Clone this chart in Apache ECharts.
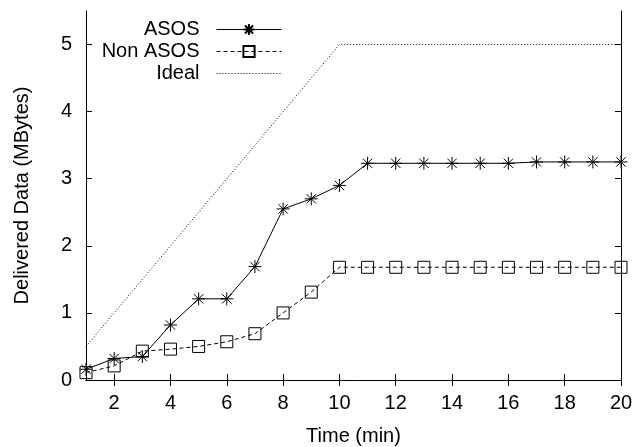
<!DOCTYPE html>
<html>
<head>
<meta charset="utf-8">
<script src="https://cdn.jsdelivr.net/npm/echarts@6/dist/echarts.min.js"></script>
<style>
    html, body { margin: 0; padding: 0; background: #fff; }
    #chart { width: 644px; height: 447px; }
</style>
</head>
<body>
<div id="chart"></div>
<script>
    // 数据
    var times = [1, 2, 3, 4, 5, 6, 7, 8, 9, 10, 11, 12, 13, 14, 15, 16, 17, 18, 19, 20];
    var asos = [0.16, 0.32, 0.35, 0.82, 1.21, 1.21, 1.69, 2.55, 2.70, 2.90, 3.23, 3.23, 3.23, 3.23, 3.23, 3.23, 3.25, 3.25, 3.25, 3.25];
    var nonAsos = [0.11, 0.21, 0.43, 0.46, 0.50, 0.57, 0.69, 1.00, 1.31, 1.68, 1.68, 1.68, 1.68, 1.68, 1.68, 1.68, 1.68, 1.68, 1.68, 1.68];
    var idealTimes = [1, 10, 20];
    var idealValues = [0.5, 5, 5];
    var xTicks = [2, 4, 6, 8, 10, 12, 14, 16, 18, 20];
    var yTicks = [0, 1, 2, 3, 4, 5];

    function pairs(xs, ys) {
        var out = [];
        for (var i = 0; i < xs.length; i++) {
            out.push([xs[i], ys[i]]);
        }
        return out;
    }

    var font = 'Liberation Sans';
    var star = 'path://M0,-1L0,1M-1,0L1,0M-0.72,-0.72L0.72,0.72M-0.72,0.72L0.72,-0.72';

    var myChart = echarts.init(document.getElementById('chart'));
    var option = {
        animation: false,
        textStyle: { fontFamily: font },
        grid: { left: 86, right: 23, top: 11, bottom: 67, outerBoundsMode: 'none' },
        legend: {
            orient: 'vertical',
            right: 357,
            top: 14,
            align: 'right',
            itemWidth: 65,
            itemHeight: 14,
            itemGap: 1,
            selectedMode: false,
            lineStyle: { width: 1 },
            textStyle: { fontSize: 20, color: '#000', fontFamily: font, lineHeight: 21, padding: [0, 12, 0, 0] },
            data: ['ASOS', 'Non ASOS', { name: 'Ideal', itemStyle: { opacity: 0 } }]
        },
        xAxis: [{
            type: 'value',
            min: 1,
            max: 20,
            name: 'Time (min)',
            nameLocation: 'middle',
            nameGap: 46,
            nameTextStyle: { fontSize: 20, color: '#000' },
            splitLine: { show: false },
            axisLine: { lineStyle: { color: '#000', width: 1 } },
            axisTick: { inside: true, length: 6, customValues: xTicks, lineStyle: { color: '#000' } },
            axisLabel: { fontSize: 20, color: '#000', margin: 13, customValues: xTicks }
        }, {
            type: 'value',
            position: 'top',
            min: 1,
            max: 20,
            splitLine: { show: false },
            axisLine: { lineStyle: { color: '#000', width: 1 } },
            axisTick: { inside: true, length: 6, customValues: xTicks, lineStyle: { color: '#000' } },
            axisLabel: { show: false }
        }],
        yAxis: [{
            type: 'value',
            min: 0,
            max: 5.5,
            name: 'Delivered Data (MBytes)',
            nameLocation: 'middle',
            nameGap: 54,
            nameTextStyle: { fontSize: 20, color: '#000' },
            splitLine: { show: false },
            axisLine: { show: true, lineStyle: { color: '#000', width: 1 } },
            axisTick: { show: true, inside: true, length: 6, customValues: yTicks, lineStyle: { color: '#000' } },
            axisLabel: { fontSize: 20, color: '#000', margin: 14, customValues: yTicks }
        }, {
            type: 'value',
            position: 'right',
            min: 0,
            max: 5.5,
            splitLine: { show: false },
            axisLine: { show: true, lineStyle: { color: '#000', width: 1 } },
            axisTick: { show: true, inside: true, length: 6, customValues: yTicks, lineStyle: { color: '#000' } },
            axisLabel: { show: false }
        }],
        series: [{
            name: 'ASOS',
            type: 'line',
            data: pairs(times, asos),
            symbol: star,
            symbolSize: 13,
            lineStyle: { color: '#000', width: 1 },
            itemStyle: { color: '#000', borderColor: '#000', borderWidth: 1 },
            z: 3
        }, {
            name: 'Non ASOS',
            type: 'line',
            data: pairs(times, nonAsos),
            symbol: 'rect',
            symbolSize: 12,
            lineStyle: { color: '#000', width: 1, type: [4, 3] },
            itemStyle: { color: 'transparent', borderColor: '#000', borderWidth: 1 },
            z: 2
        }, {
            name: 'Ideal',
            type: 'line',
            data: pairs(idealTimes, idealValues),
            symbol: 'none',
            lineStyle: { color: '#000', width: 1, type: [1, 2] },
            itemStyle: { color: '#000' },
            z: 1
        }]
    };
    myChart.setOption(option);
</script>
</body>
</html>
